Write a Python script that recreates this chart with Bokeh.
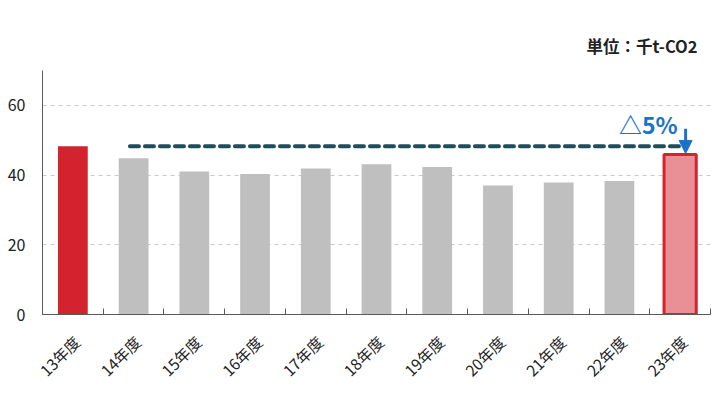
from bokeh.plotting import figure
from bokeh.models import FixedTicker, Range1d, Arrow, NormalHead
from bokeh.core.properties import value
from bokeh.embed import file_html
from bokeh.resources import INLINE

categories = ["13年度", "14年度", "15年度", "16年度", "17年度", "18年度",
              "19年度", "20年度", "21年度", "22年度", "23年度"]
emissions = [48.3, 44.8, 41.0, 40.3, 41.9, 43.1, 42.3, 37.0, 37.9, 38.3, 45.9]
y_ticks = [0, 20, 40, 60]
unit_label = "単位：千t-CO2"
target_label = "△5%"

FONT = "Noto Sans CJK JP"
n = len(categories)
centers = [i + 0.5 for i in range(n)]
bounds = list(range(n + 1))
label_pos = [c + 0.06 for c in centers]

p = figure(width=712, height=392, output_backend="svg", toolbar_location=None,
           x_range=Range1d(0, n), y_range=Range1d(0, 70),
           min_border_left=42, min_border_right=2, min_border_top=70,
           min_border_bottom=78)
p.outline_line_color = None
p.background_fill_color = "white"

# grid
p.xgrid.grid_line_color = None
p.ygrid.ticker = FixedTicker(ticks=[20, 40, 60])
p.ygrid.grid_line_color = "#c8c8c8"
p.ygrid.grid_line_dash = "4 4"
p.ygrid.grid_line_width = 1

# bars
gray_x = centers[1:-1]
gray_top = emissions[1:-1]
p.vbar(x=gray_x, top=gray_top, width=0.49, fill_color="#bfbfbf", line_color=None)
p.vbar(x=[centers[0]], top=[emissions[0]], width=0.49, fill_color="#d3232e", line_color=None)
p.vbar(x=[centers[-1]], top=[emissions[-1]], width=0.53, fill_color="#e99097",
       line_color="#d3232e", line_width=3)

# baseline dashed line at 13年度 level
p.line(x=[centers[1] - 0.06, centers[-1] + 0.04], y=[emissions[0], emissions[0]],
       line_color="#1e4d5c", line_width=4, line_dash="9 6", line_cap="round")

# arrow
arr = Arrow(x_start=centers[-1] + 0.09, y_start=emissions[0] + 5.0,
            x_end=centers[-1] + 0.09, y_end=emissions[-1] + 0.3,
            line_color="#1a73c6", line_width=3,
            end=NormalHead(size=13, fill_color="#1a73c6", line_color="#1a73c6"))
p.add_layout(arr)

p.text(x=[centers[-1] - 0.04], y=[emissions[0] + 1.6], text=[target_label],
       text_font=value(FONT), text_font_size="23px", text_color="#1a73c6",
       text_font_style="bold", text_align="right", text_baseline="bottom")

# title / unit
p.title.text = unit_label
p.title.align = "right"
p.title.text_font = FONT
p.title.text_font_size = "16.5px"
p.title.text_font_style = "bold"
p.title.text_color = "#222222"
p.title.offset = 13
p.title.standoff = 26

# axes
xa = p.xaxis[0]
xa.ticker = FixedTicker(ticks=label_pos, minor_ticks=bounds)
xa.major_label_overrides = {c: lab for c, lab in zip(label_pos, categories)}
xa.major_tick_in = 0
xa.major_tick_out = 0
xa.minor_tick_in = 6
xa.minor_tick_out = 0
xa.minor_tick_line_color = "#595959"
xa.axis_line_color = "#595959"
xa.major_label_orientation = 0.785398
xa.major_label_text_font = FONT
xa.major_label_text_font_size = "15.5px"
xa.major_label_text_color = "#222222"
xa.major_label_standoff = 24

ya = p.yaxis[0]
ya.ticker = FixedTicker(ticks=y_ticks)
ya.major_tick_in = 0
ya.major_tick_out = 0
ya.minor_tick_line_color = None
ya.axis_line_color = "#595959"
ya.major_label_text_font = FONT
ya.major_label_text_font_size = "16px"
ya.major_label_text_color = "#222222"
ya.major_label_standoff = 17

open("out.html", "w").write(file_html(p, INLINE))
